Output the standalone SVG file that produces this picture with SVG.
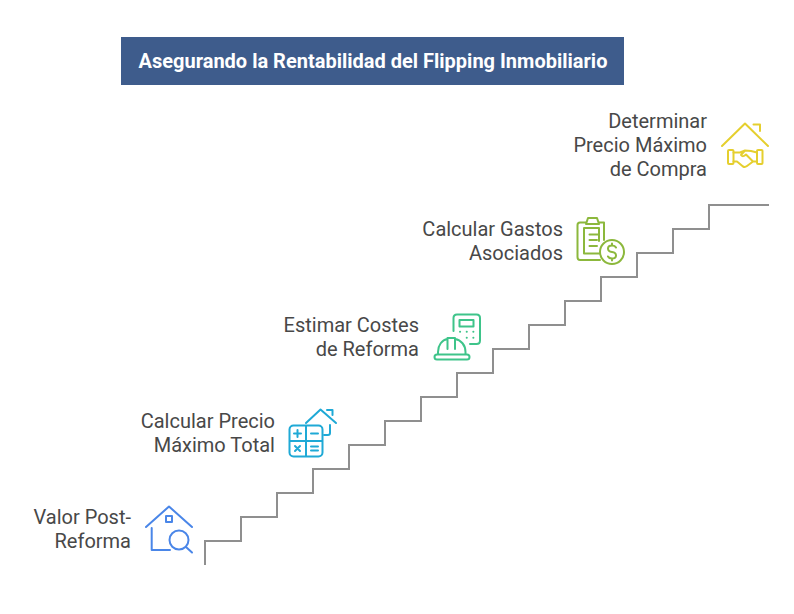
<svg xmlns="http://www.w3.org/2000/svg" width="794" height="614" viewBox="0 0 794 614">
<style>
.t{font-family:Roboto,"Liberation Sans",sans-serif;font-size:20px;fill:#484848;text-anchor:end}
.title{font-family:Roboto,"Liberation Sans",sans-serif;font-size:20px;font-weight:700;fill:#fff;text-anchor:middle}
.i{fill:none;stroke-width:2;stroke-linecap:round;stroke-linejoin:round}
</style>
<rect width="794" height="614" fill="#fff"/>
<g id="title"><rect x="121" y="37" width="503" height="48" fill="#3e5c8c"/><text class="title" x="373" y="68">Asegurando la Rentabilidad del Flipping Inmobiliario</text></g>
<g id="connectors"><path d="M205 565V541H241V517H277V493H313V469H349V445H385V421H421V397H457V373H493V349H529V325H565V301H601V277H637V253H673V229H709V205H769" fill="none" stroke="#8f8f8f" stroke-width="2"/></g>
<g id="node1"><text class="t" x="131" y="524">Valor Post-</text><text class="t" x="131" y="548">Reforma</text>
<g class="i" stroke="#4a86e8"><path d="M146 527L169 506.500L192 527"/><rect x="166" y="516" width="6" height="6"/><path d="M151.700 528V550H170"/><circle cx="179" cy="540" r="9.500"/><path d="M186 547L192 552.500"/></g></g>
<g id="node2"><text class="t" x="275" y="428">Calcular Precio</text><text class="t" x="275" y="452">Máximo Total</text>
<g class="i" stroke="#1fa9d6"><path d="M306 423L320.500 409.500L336 423M327 410H332.500V415M330 425V433Q330 435 328 435H324"/><rect x="289.500" y="425.500" width="33" height="31" rx="4"/><path d="M306 426V456M290 441H322M294 433.500H301M297.500 430V437M311 433.500H318M295 446L300 451M300 446L295 451M311 446.500H318M311 450.500H318"/></g></g>
<g id="node3"><text class="t" x="419" y="332">Estimar Costes</text><text class="t" x="419" y="356">de Reforma</text>
<g class="i" stroke="#3ec48a"><path d="M453.500 331V318Q453.500 314.500 457 314.500H476.500Q480 314.500 480 318V340.500Q480 344 476.500 344H470"/><rect x="459.500" y="320" width="14" height="6.500"/><path d="M460 331.700h.1M466.700 331.700h.1M473.300 331.700h.1M466.700 337.700h.1M473.300 337.700h.1"/><rect x="434.500" y="354.500" width="35" height="5" rx="2.500"/><path d="M438 354V352C438 345 442 340 447.500 339V338H455V339C461 340 465.500 345 465.500 352V354M447.500 339V349M455 339V349"/></g></g>
<g id="node4"><text class="t" x="563" y="236">Calcular Gastos</text><text class="t" x="563" y="260">Asociados</text>
<g class="i" stroke="#8cb83c"><path d="M586 222.500H580Q577.500 222.500 577.500 225V257Q577.500 260 580 260H600M599 222.500H604Q604 222.500 604 225V240"/><path d="M586 224L588 218H597L599 224Z"/><path d="M599 253.500H584V228H599V241"/><path d="M589.500 234.500H599M589.500 240H597M589.500 246H597"/><circle cx="612" cy="252" r="12"/><path d="M616 247.500Q615 245.500 612 245.500Q608 245.500 608 248.500Q608 251.500 612 252Q616 252.500 616 255.500Q616 258.500 612 258.500Q609 258.500 608 256.500M612 243.500V245.500M612 258.500V260.500"/></g></g>
<g id="node5"><text class="t" x="707" y="128">Determinar</text><text class="t" x="707" y="152">Precio Máximo</text><text class="t" x="707" y="176">de Compra</text>
<g class="i" stroke="#e5cf2e"><path d="M722 146L745 123.500L768 146M753.500 124.500H760V131"/><rect x="728" y="150" width="5.500" height="14" rx="1"/><rect x="757" y="150" width="5.500" height="14" rx="1"/><path d="M733.500 152.500H740L745 150.500L751 151L757 152.500M733.500 161.500H737L743 166.500Q745 167.500 747 166L753 161.500H757M745 150.500L741 155Q743 157.500 746 154.500L753 161.500"/></g></g>
</svg>
